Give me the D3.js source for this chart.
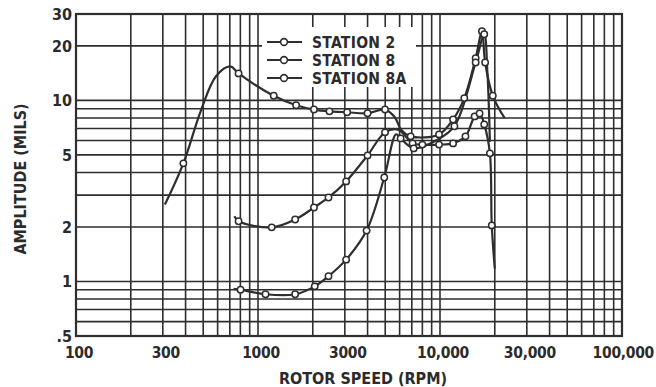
<!DOCTYPE html>
<html>
<head>
<meta charset="utf-8">
<script src="https://cdn.jsdelivr.net/npm/d3@7"></script>
<style>
  body { margin: 0; background: #fff; }
  text { font-family: "DejaVu Sans Condensed", "Liberation Sans Narrow", sans-serif; font-weight: bold; fill: #2b2b2b; }
</style>
</head>
<body>
<svg id="chart" width="656" height="387"></svg>
<script>
// values (rpm, amplitude in mils, 1 = drawn with a marker)
const station2Rpm = [308, 389, 484, 588, 705, 782, 1220, 1620, 2030, 2470, 3090, 4000, 4990, 5660, 6100, 6900, 9880, 11800, 13600, 15700, 17000, 17700, 19500, 22700];
const station2Amp = [2.66, 4.49, 8.7, 13.6, 15.4, 14.1, 10.6, 9.4, 8.9, 8.7, 8.6, 8.5, 8.9, 8.05, 6.9, 6.33, 6.49, 7.85, 10.3, 17.1, 24.1, 16.2, 10.6, 7.95];
const station2Mark = [0, 1, 0, 0, 0, 1, 1, 1, 1, 1, 1, 1, 1, 0, 0, 1, 1, 1, 1, 1, 1, 1, 1, 0];

const station8Rpm = [742, 782, 1190, 1600, 2030, 2440, 3050, 4000, 4990, 5880, 7070, 8000, 9880, 11800, 13800, 15500, 16500, 17500, 18800, 19250, 20000];
const station8Amp = [2.29, 2.15, 1.99, 2.2, 2.56, 2.91, 3.57, 4.97, 6.66, 6.9, 5.79, 5.7, 5.7, 5.79, 6.33, 8.16, 8.47, 7.37, 5.1, 2.04, 1.18];
const station8Mark = [0, 1, 1, 1, 1, 1, 1, 1, 1, 0, 1, 1, 1, 1, 1, 1, 1, 1, 1, 1, 0];

const station8aRpm = [733, 802, 1100, 1600, 2050, 2440, 3050, 3950, 4940, 5740, 6080, 7170, 9500, 12000, 15700, 17500, 18200, 18800];
const station8aAmp = [0.91, 0.9, 0.85, 0.85, 0.94, 1.07, 1.32, 1.91, 3.75, 6.5, 6.17, 5.43, 6.0, 7.2, 16.2, 23.2, 14.5, 5.9];
const station8aMark = [0, 1, 1, 1, 1, 1, 1, 1, 1, 0, 1, 1, 0, 1, 1, 1, 0, 0];

const legendLabels = ["STATION 2", "STATION 8", "STATION 8A"];
const xTickValues = [100, 300, 1000, 3000, 10000, 30000, 100000];
const xTickLabels = ["100", "300", "1000", "3000", "10,000", "30,000", "100,000"];
const yTickValues = [30, 20, 10, 5, 2, 1, 0.5];
const yTickLabels = ["30", "20", "10", "5", "2", "1", ".5"];

const ink = "#2e2e2e";
const svg = d3.select("#chart");

const x = d3.scaleLog().domain([100, 100000]).range([76, 622]);
const y = d3.scaleLog().domain([0.5, 30]).range([336, 14]);

// log paper grid: 1..9 in every decade
const xGrid = [];
for (let d = 100; d < 100000; d *= 10) for (let k = 1; k < 10; k++) xGrid.push(d * k);
const yGrid = [];
for (let d = 0.1; d < 30; d *= 10) for (let k = 1; k < 10; k++) { const v = +(d * k).toPrecision(3); if (v >= 0.5 && v <= 30) yGrid.push(v); }

const grid = svg.append("g").attr("stroke", ink).attr("stroke-width", 1.6);
grid.selectAll("line.v").data(xGrid).enter().append("line")
  .attr("x1", d => x(d)).attr("x2", d => x(d))
  .attr("y1", y(30)).attr("y2", y(0.5));
grid.selectAll("line.h").data(yGrid).enter().append("line")
  .attr("x1", x(100)).attr("x2", x(100000))
  .attr("y1", d => y(d)).attr("y2", d => y(d));

svg.append("rect")
  .attr("x", x(100)).attr("y", y(30))
  .attr("width", x(100000) - x(100)).attr("height", y(0.5) - y(30))
  .attr("fill", "none").attr("stroke", ink).attr("stroke-width", 2.2);

// axis labels
svg.append("g").selectAll("text").data(yTickValues).enter().append("text")
  .attr("x", 72).attr("y", d => y(d) + 6)
  .attr("text-anchor", "end").attr("font-size", 16)
  .text((d, i) => yTickLabels[i]);

svg.append("g").selectAll("text").data(xTickValues).enter().append("text")
  .attr("x", (d, i) => i === xTickValues.length - 1 ? 654 : x(d) + 3).attr("y", 358)
  .attr("text-anchor", (d, i) => i === xTickValues.length - 1 ? "end" : "middle")
  .attr("font-size", 15.5).attr("letter-spacing", -0.3)
  .text((d, i) => xTickLabels[i]);

svg.append("text")
  .attr("x", 363).attr("y", 384)
  .attr("text-anchor", "middle").attr("font-size", 16)
  .text("ROTOR SPEED (RPM)");

svg.append("text")
  .attr("transform", "translate(26,179) rotate(-90)")
  .attr("text-anchor", "middle").attr("font-size", 16)
  .text("AMPLITUDE (MILS)");

// legend box hides the grid behind it
svg.append("rect")
  .attr("x", 262).attr("y", 27).attr("width", 154).attr("height", 60)
  .attr("fill", "#fff");

const legend = svg.append("g");
legendLabels.forEach((label, i) => {
  const ly = 42 + i * 18;
  legend.append("line").attr("x1", 267).attr("x2", 302).attr("y1", ly).attr("y2", ly)
    .attr("stroke", ink).attr("stroke-width", 2);
  legend.append("circle").attr("cx", 284).attr("cy", ly).attr("r", 3.4)
    .attr("fill", "#fff").attr("stroke", ink).attr("stroke-width", 1.6);
  legend.append("text").attr("x", 312).attr("y", ly + 5.5)
    .attr("font-size", 15.5).attr("letter-spacing", 0.3).text(label);
});

// curves
const line = d3.line()
  .x(d => x(d.rpm)).y(d => y(d.amp))
  .curve(d3.curveCatmullRom.alpha(0.5));

function series(rpm, amp, mark) {
  return rpm.map((r, i) => ({ rpm: r, amp: amp[i], mark: mark[i] }));
}
const allSeries = [
  series(station2Rpm, station2Amp, station2Mark),
  series(station8Rpm, station8Amp, station8Mark),
  series(station8aRpm, station8aAmp, station8aMark)
];

allSeries.forEach(s => {
  svg.append("path").datum(s)
    .attr("d", line)
    .attr("fill", "none").attr("stroke", ink).attr("stroke-width", 2.2);
});
allSeries.forEach(s => {
  svg.append("g").selectAll("circle").data(s.filter(d => d.mark)).enter().append("circle")
    .attr("cx", d => x(d.rpm)).attr("cy", d => y(d.amp)).attr("r", 3.2)
    .attr("fill", "#fff").attr("stroke", ink).attr("stroke-width", 1.5);
});
</script>
</body>
</html>
